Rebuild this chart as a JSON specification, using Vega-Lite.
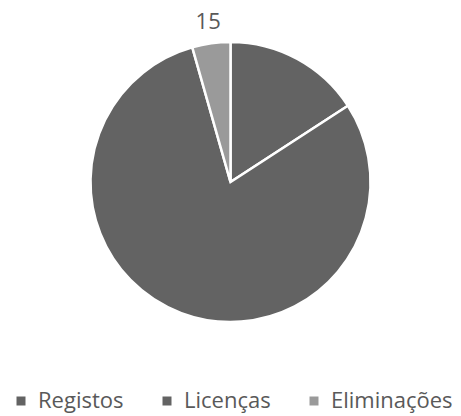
{
  "$schema": "https://vega.github.io/schema/vega-lite/v6.json",
  "width": 461,
  "height": 364,
  "padding": {"top": 0, "left": 0, "right": 0, "bottom": 52},
  "autosize": {"type": "none"},
  "background": "white",
  "config": {"view": {"stroke": null}, "font": "Open Sans"},
  "data": {"values": [
    {"categoria": "Registos", "valor": 54, "ordem": 1},
    {"categoria": "Licenças", "valor": 272, "ordem": 2},
    {"categoria": "Eliminações", "valor": 15, "ordem": 3}
  ]},
  "encoding": {
    "theta": {"field": "valor", "type": "quantitative", "stack": true},
    "order": {"field": "ordem", "type": "quantitative"}
  },
  "layer": [
    {
      "mark": {"type": "arc", "outerRadius": 140, "stroke": "white", "strokeWidth": 2.5},
      "encoding": {
        "color": {
          "field": "categoria", "type": "nominal",
          "sort": ["Registos", "Licenças", "Eliminações"],
          "scale": {"domain": ["Registos", "Licenças", "Eliminações"], "range": ["#636363", "#636363", "#9a9a9a"]},
          "legend": {
            "title": null, "orient": "none", "legendX": 10, "legendY": 390, "direction": "horizontal",
            "symbolType": "square", "symbolSize": 81, "symbolStrokeWidth": 0,
            "labelFontSize": 22, "labelColor": "#595959", "columnPadding": 32, "labelOffset": 6
          }
        }
      }
    },
    {
      "mark": {"type": "text", "radius": 162, "fontSize": 22, "fill": "#595959"},
      "encoding": {
        "text": {"field": "valor", "type": "quantitative"},
        "opacity": {"condition": {"test": "datum.categoria === 'Eliminações'", "value": 1}, "value": 0}
      }
    }
  ]
}
